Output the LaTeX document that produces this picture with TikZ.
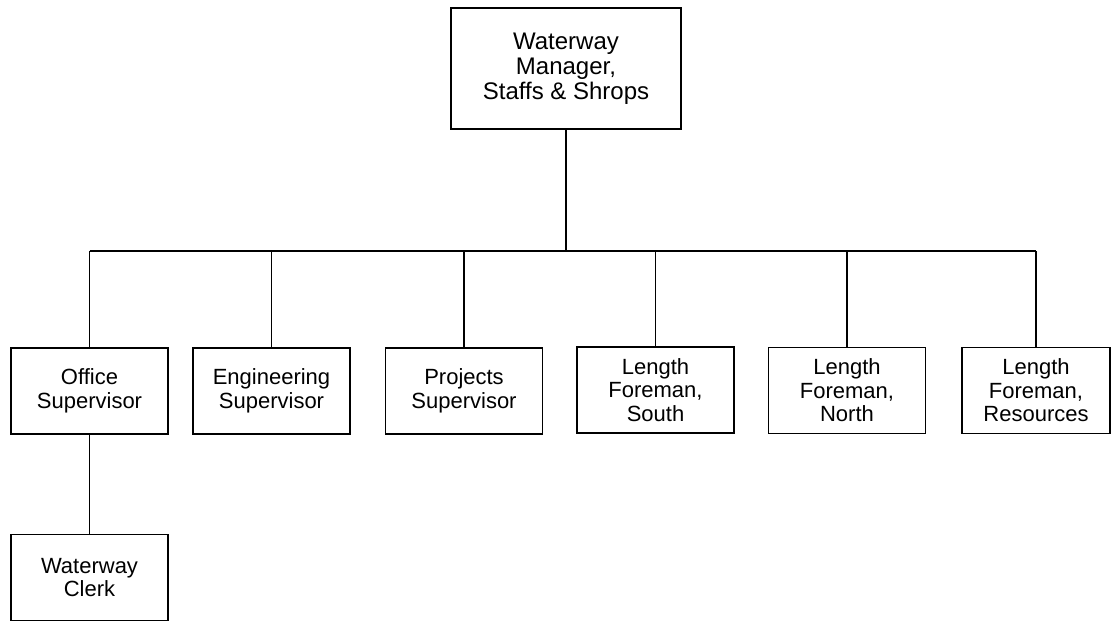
\documentclass[tikz,border=0pt]{standalone}
\usepackage{fontspec}
\setmainfont{Liberation Sans}
\begin{document}
\begin{tikzpicture}[x=1pt,y=-1pt,
  orgbox/.style={draw, line width=1.8pt, align=center, inner sep=0pt,
    minimum width=157pt, minimum height=86pt,
    font=\fontsize{22}{23.5}\selectfont},
  link/.style={line width=1.8pt}]
\useasboundingbox (0,0) rectangle (1111,623);
% head of the organisation
\node[orgbox, minimum width=230pt, minimum height=121pt,
  font=\fontsize{24}{25}\selectfont] (mgr) at (566,68.5)
  {Waterway\\Manager,\\Staffs \& Shrops};
% reporting positions
\node[orgbox] (office) at (89.5,391)  {Office\\Supervisor};
\node[orgbox] (eng)    at (271.5,391) {Engineering\\Supervisor};
\node[orgbox] (proj)   at (464,391)   {Projects\\Supervisor};
\node[orgbox] (south)  at (655.5,390) {Length\\Foreman,\\South};
\node[orgbox] (north)  at (847,390.5) {Length\\Foreman,\\North};
\node[orgbox, minimum width=148pt] (res) at (1036,390.5) {Length\\Foreman,\\Resources};
\node[orgbox] (clerk)  at (89.5,577.5) {Waterway\\Clerk};
% connectors
\coordinate (bus) at (566,251);
\draw[link] (mgr.south) -- (mgr.south |- bus);
\draw[link] (office.north |- bus) -- (res.north |- bus);
\foreach \n in {office,eng,proj,south,north,res}
  \draw[link] (\n.north) -- (\n.north |- bus);
\draw[link] (office.south) -- (clerk.north);
\end{tikzpicture}
\end{document}
